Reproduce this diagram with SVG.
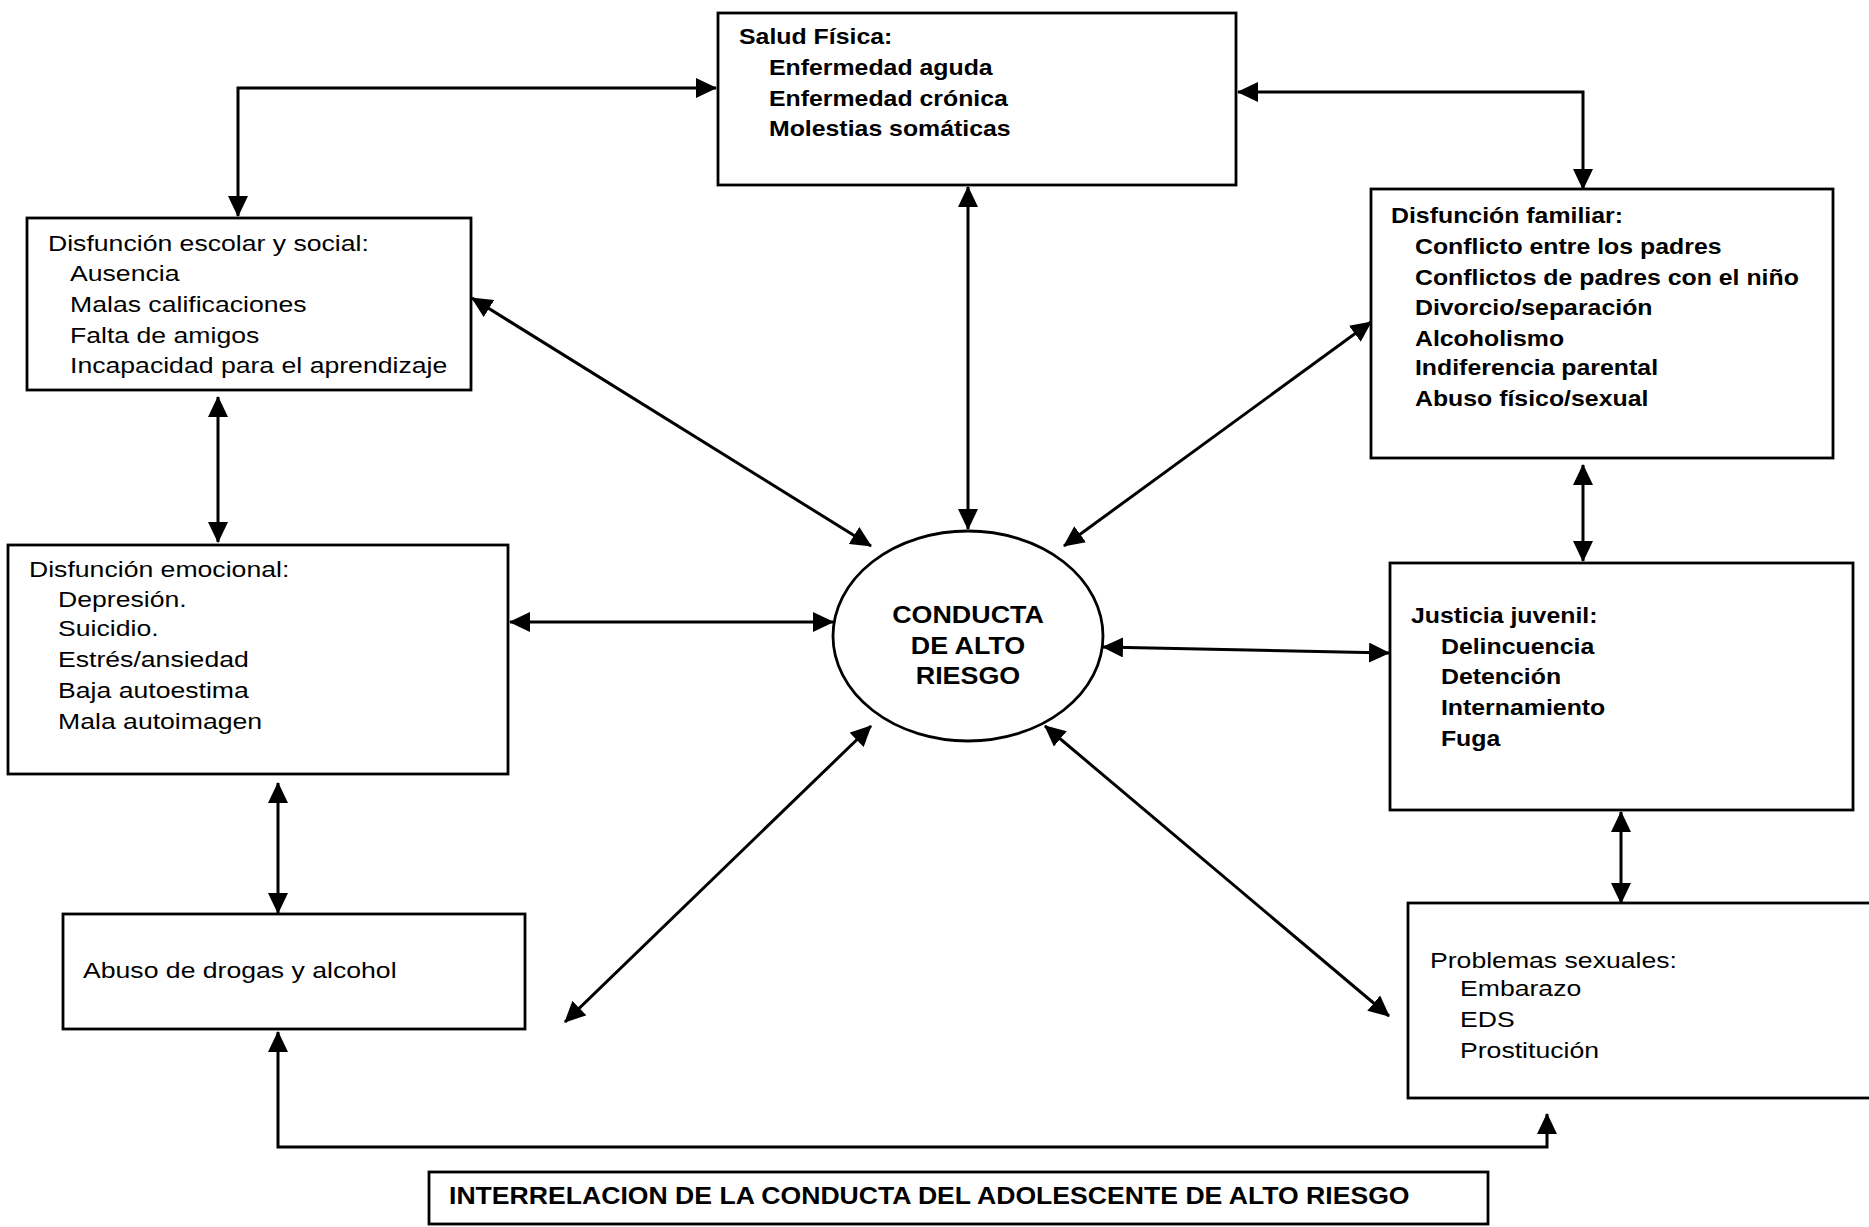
<svg xmlns="http://www.w3.org/2000/svg" width="1869" height="1227" viewBox="0 0 1869 1227">
<style>
.box{fill:#fff;stroke:#000;stroke-width:2.8}
.t{font-family:"Liberation Sans",Arial,sans-serif;font-size:22px;fill:#000}
.b{font-weight:bold}
.c{fill:none;stroke:#000;stroke-width:3}
</style>
<defs>
<marker id="ah" markerUnits="userSpaceOnUse" markerWidth="22" markerHeight="20" refX="20" refY="10" orient="auto-start-reverse" viewBox="0 0 22 20">
<path d="M0,0 L21,10 L0,20 z" fill="#000"/>
</marker>
</defs>
<rect width="1869" height="1227" fill="#fff"/>

<g id="connectors">
<polyline class="c" points="716,88 238,88 238,216" marker-start="url(#ah)" marker-end="url(#ah)"/>
<polyline class="c" points="1238,92 1583,92 1583,189" marker-start="url(#ah)" marker-end="url(#ah)"/>
<line class="c" x1="968" y1="187" x2="968" y2="529" marker-start="url(#ah)" marker-end="url(#ah)"/>
<line class="c" x1="472" y1="298" x2="871" y2="546" marker-start="url(#ah)" marker-end="url(#ah)"/>
<line class="c" x1="1371" y1="322" x2="1064" y2="546" marker-start="url(#ah)" marker-end="url(#ah)"/>
<line class="c" x1="218" y1="397" x2="218" y2="542" marker-start="url(#ah)" marker-end="url(#ah)"/>
<line class="c" x1="510" y1="622" x2="833" y2="622" marker-start="url(#ah)" marker-end="url(#ah)"/>
<line class="c" x1="1103" y1="647" x2="1389" y2="653" marker-start="url(#ah)" marker-end="url(#ah)"/>
<line class="c" x1="1583" y1="465" x2="1583" y2="561" marker-start="url(#ah)" marker-end="url(#ah)"/>
<line class="c" x1="278" y1="783" x2="278" y2="913" marker-start="url(#ah)" marker-end="url(#ah)"/>
<line class="c" x1="1621" y1="812" x2="1621" y2="903" marker-start="url(#ah)" marker-end="url(#ah)"/>
<line class="c" x1="871" y1="726" x2="565" y2="1022" marker-start="url(#ah)" marker-end="url(#ah)"/>
<line class="c" x1="1045" y1="726" x2="1389" y2="1016" marker-start="url(#ah)" marker-end="url(#ah)"/>
<polyline class="c" points="278,1032 278,1147 1547,1147 1547,1114" marker-start="url(#ah)" marker-end="url(#ah)"/>
</g>

<g id="salud-fisica">
<rect class="box" x="718" y="13" width="518" height="172"/>
<g transform="translate(739,0) scale(1.13,1)">
<text class="t b" x="0" y="44">Salud Física:</text>
<text class="t b" x="26.5" y="75">Enfermedad aguda</text>
<text class="t b" x="26.5" y="106">Enfermedad crónica</text>
<text class="t b" x="26.5" y="136">Molestias somáticas</text>
</g>
</g>

<g id="disfuncion-escolar">
<rect class="box" x="27" y="218" width="444" height="172"/>
<g transform="translate(48,0) scale(1.21,1)">
<text class="t" x="0" y="251">Disfunción escolar y social:</text>
<text class="t" x="18.2" y="281">Ausencia</text>
<text class="t" x="18.2" y="312">Malas calificaciones</text>
<text class="t" x="18.2" y="343">Falta de amigos</text>
<text class="t" x="18.2" y="373">Incapacidad para el aprendizaje</text>
</g>
</g>

<g id="disfuncion-familiar">
<rect class="box" x="1371" y="189" width="462" height="269"/>
<g transform="translate(1391,0) scale(1.13,1)">
<text class="t b" x="0" y="223">Disfunción familiar:</text>
<text class="t b" x="21.2" y="254">Conflicto entre los padres</text>
<text class="t b" x="21.2" y="285">Conflictos de padres con el niño</text>
<text class="t b" x="21.2" y="315">Divorcio/separación</text>
<text class="t b" x="21.2" y="346">Alcoholismo</text>
<text class="t b" x="21.2" y="375">Indiferencia parental</text>
<text class="t b" x="21.2" y="406">Abuso físico/sexual</text>
</g>
</g>

<g id="disfuncion-emocional">
<rect class="box" x="8" y="545" width="500" height="229"/>
<g transform="translate(29,0) scale(1.21,1)">
<text class="t" x="0" y="577">Disfunción emocional:</text>
<text class="t" x="24" y="607">Depresión.</text>
<text class="t" x="24" y="636">Suicidio.</text>
<text class="t" x="24" y="667">Estrés/ansiedad</text>
<text class="t" x="24" y="698">Baja autoestima</text>
<text class="t" x="24" y="729">Mala autoimagen</text>
</g>
</g>

<g id="conducta">
<ellipse cx="968" cy="636" rx="135" ry="105" fill="#fff" stroke="#000" stroke-width="2.8"/>
<g transform="translate(968,0) scale(1.12,1)">
<text class="t b" x="0" y="623" text-anchor="middle" style="font-size:24px">CONDUCTA</text>
<text class="t b" x="0" y="654" text-anchor="middle" style="font-size:24px">DE ALTO</text>
<text class="t b" x="0" y="684" text-anchor="middle" style="font-size:24px">RIESGO</text>
</g>
</g>

<g id="justicia-juvenil">
<rect class="box" x="1390" y="563" width="463" height="247"/>
<g transform="translate(1411,0) scale(1.13,1)">
<text class="t b" x="0" y="623">Justicia juvenil:</text>
<text class="t b" x="26.5" y="654">Delincuencia</text>
<text class="t b" x="26.5" y="684">Detención</text>
<text class="t b" x="26.5" y="715">Internamiento</text>
<text class="t b" x="26.5" y="746">Fuga</text>
</g>
</g>

<g id="abuso-drogas">
<rect class="box" x="63" y="914" width="462" height="115"/>
<g transform="translate(83,0) scale(1.21,1)">
<text class="t" x="0" y="978">Abuso de drogas y alcohol</text>
</g>
</g>

<g id="problemas-sexuales">
<rect class="box" x="1408" y="903" width="480" height="195"/>
<g transform="translate(1430,0) scale(1.21,1)">
<text class="t" x="0" y="968">Problemas sexuales:</text>
<text class="t" x="24.8" y="996">Embarazo</text>
<text class="t" x="24.8" y="1027">EDS</text>
<text class="t" x="24.8" y="1058">Prostitución</text>
</g>
</g>

<g id="titulo">
<rect class="box" x="429" y="1172" width="1059" height="52"/>
<g transform="translate(449,0) scale(1.157,1)">
<text class="t b" x="0" y="1204" style="font-size:23px">INTERRELACION DE LA CONDUCTA DEL ADOLESCENTE DE ALTO RIESGO</text>
</g>
</g>
</svg>
